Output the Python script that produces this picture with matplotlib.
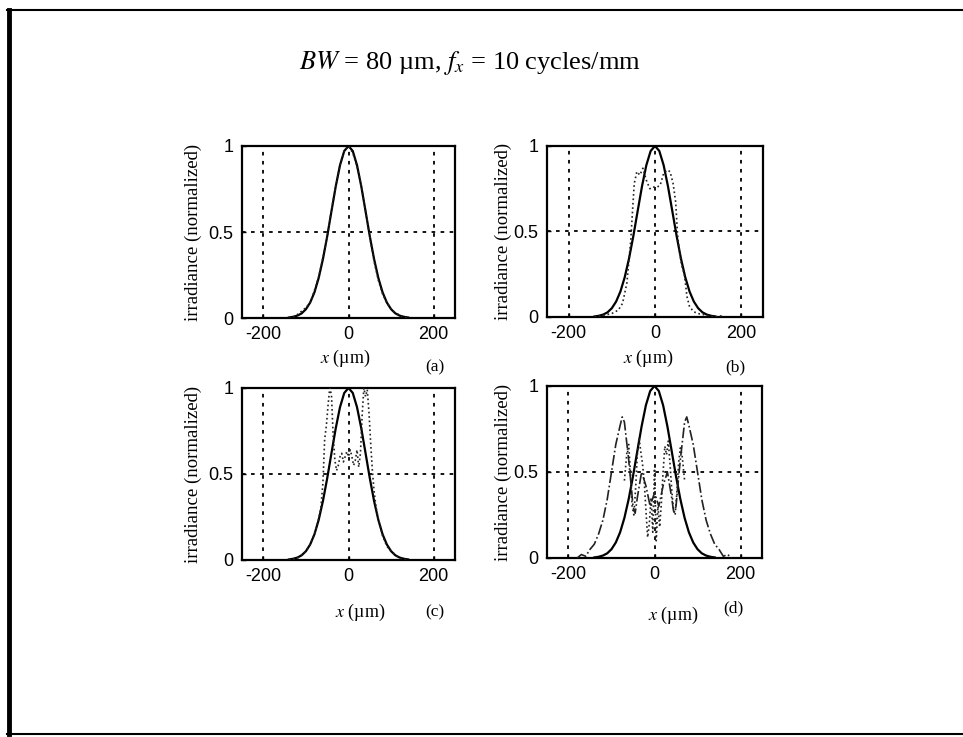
import matplotlib
matplotlib.use("Agg")
import matplotlib.pyplot as plt
from matplotlib.lines import Line2D

plt.rcParams["mathtext.fontset"] = "stix"
plt.rcParams["font.family"] = ["Liberation Serif", "DejaVu Serif"]
plt.rcParams["axes.unicode_minus"] = False

# solid reference profile (same in every panel)
x_ref = [-140, -130, -120, -110, -100, -90, -80, -70, -60, -50, -40, -30, -20, -10, 0,
         10, 20, 30, 40, 50, 60, 70, 80, 90, 100, 110, 120, 130, 140]
y_ref = [0.003, 0.007, 0.014, 0.027, 0.051, 0.090, 0.149, 0.233, 0.343, 0.475, 0.621, 0.765, 0.888, 0.971, 1.0,
         0.971, 0.888, 0.765, 0.621, 0.475, 0.343, 0.233, 0.149, 0.090, 0.051, 0.027, 0.014, 0.007, 0.003]

# (a) dotted
a_x = [-140, -125, -110, -100, -90, -80, -70, -60, -50, -40, -30, -20, -10, 0,
       10, 20, 30, 40, 50, 60, 70, 80, 90, 100, 110, 125, 140]
a_y = [0.0, 0.01, 0.04, 0.06, 0.09, 0.16, 0.24, 0.35, 0.47, 0.63, 0.76, 0.89, 0.97, 1.0,
       0.96, 0.88, 0.77, 0.62, 0.47, 0.33, 0.22, 0.14, 0.09, 0.05, 0.03, 0.01, 0.0]

# (b) dotted
b_x = [-140, -120, -100, -85, -75, -65, -56, -52, -48, -42, -35, -28, -20, -12, -5, 0, 5, 12,
       20, 28, 35, 42, 48, 52, 56, 62, 68, 74, 80, 90, 100, 120, 140, 160]
b_y = [0.0, 0.01, 0.02, 0.04, 0.08, 0.2, 0.45, 0.62, 0.78, 0.85, 0.83, 0.87, 0.8, 0.75, 0.76, 0.76, 0.76, 0.77,
       0.84, 0.86, 0.85, 0.78, 0.67, 0.49, 0.39, 0.3, 0.25, 0.12, 0.06, 0.03, 0.02, 0.01, 0.0, 0.01]

# (c) dotted
c_x = [-140, -120, -110, -100, -90, -80, -70, -65, -60, -56, -52, -48, -44, -40, -36, -32, -28, -24,
       -20, -16, -12, -8, -4, 0, 4, 8, 12, 16, 20, 24, 28, 32, 36, 40, 44, 48, 52, 56, 60, 65, 70,
       80, 90, 100, 110, 120, 140]
c_y = [0.0, 0.01, 0.03, 0.05, 0.09, 0.15, 0.24, 0.3, 0.45, 0.7, 0.78, 0.9, 1.0, 0.96, 0.72, 0.58, 0.52, 0.55,
       0.6, 0.62, 0.57, 0.6, 0.63, 0.6, 0.64, 0.6, 0.55, 0.58, 0.64, 0.54, 0.62, 0.84, 1.0, 0.95, 0.99, 0.86,
       0.68, 0.52, 0.4, 0.3, 0.24, 0.14, 0.08, 0.05, 0.03, 0.01, 0.0]

# (d) dash-dot outer lobes
d_x_dd = [-180, -170, -160, -150, -140, -130, -120, -110, -100, -90, -80, -75, -70, -65, -60, -55, -50,
          -45, -40, -30, -20, -10, 0, 10, 20, 30, 40, 45, 50, 55, 60, 65, 70, 75, 80, 90, 100,
          110, 120, 130, 140, 150, 160, 170, 180]
d_y_dd = [0.0, 0.02, 0.01, 0.05, 0.08, 0.14, 0.22, 0.34, 0.5, 0.66, 0.77, 0.82, 0.79, 0.68, 0.57, 0.44, 0.3,
          0.26, 0.35, 0.5, 0.42, 0.3, 0.38, 0.3, 0.42, 0.5, 0.35, 0.26, 0.3, 0.44, 0.57, 0.68, 0.79, 0.82, 0.77,
          0.66, 0.5, 0.34, 0.22, 0.14, 0.08, 0.05, 0.01, 0.02, 0.0]

# (d) dotted inner structure
d_x_dot = [-70, -64, -60, -56, -52, -48, -44, -40, -36, -32, -28, -24, -20, -16, -12, -8, -4, 0,
           4, 8, 12, 16, 20, 24, 28, 32, 36, 40, 44, 48, 52, 56, 60, 64, 70]
d_y_dot = [0.45, 0.62, 0.66, 0.5, 0.3, 0.25, 0.4, 0.6, 0.7, 0.62, 0.55, 0.45, 0.28, 0.12, 0.2, 0.35, 0.15, 0.52,
           0.1, 0.3, 0.18, 0.32, 0.5, 0.65, 0.6, 0.68, 0.55, 0.4, 0.28, 0.25, 0.38, 0.55, 0.64, 0.6, 0.45]

xticks = [-200, 0, 200]
yticks = [0, 0.5, 1]
ytick_labels = ["0", "0.5", "1"]

fig = plt.figure(figsize=(9.63, 7.37), dpi=100)

# page frame
fig.add_artist(Line2D([0.009, 0.009], [0.004, 0.987], transform=fig.transFigure, color="black", lw=3.5))
fig.add_artist(Line2D([0.007, 1.0], [0.987, 0.987], transform=fig.transFigure, color="black", lw=1.5))
fig.add_artist(Line2D([0.007, 1.0], [0.004, 0.004], transform=fig.transFigure, color="black", lw=1.5))

fig.text(0.488, 0.914, r"$BW$ = 80 µm, $f_x$ = 10 cycles/mm", ha="center", va="center", fontsize=19)

panels = [
    ([0.2513, 0.5685, 0.2212, 0.2334], "(a)", [(a_x, a_y, ":")]),
    ([0.568, 0.5699, 0.2243, 0.2320], "(b)", [(b_x, b_y, ":")]),
    ([0.2513, 0.2402, 0.2212, 0.2334], "(c)", [(c_x, c_y, ":")]),
    ([0.568, 0.2429, 0.2233, 0.2334], "(d)", [(d_x_dd, d_y_dd, "-."), (d_x_dot, d_y_dot, ":")]),
]
# label positions in pixels (x label centre, letter)
xlab_pos = [(345, 358), (648, 358), (360, 612), (673, 615)]
tag_pos = [(435, 367), (735, 367), (435, 612), (733, 608)]
ylab_x = [-0.188, -0.162, -0.188, -0.162]

for i, (rect, tag, curves) in enumerate(panels):
    ax = fig.add_axes(rect)
    ax.plot(x_ref, y_ref, color="black", lw=1.6, zorder=3)
    for xs, ys, ls in curves:
        ax.plot(xs, ys, color="#222222", lw=1.2, ls=ls, zorder=3)
    ax.set_xlim(-250, 250)
    ax.set_ylim(0, 1)
    ax.set_xticks(xticks)
    ax.set_yticks(yticks)
    ax.set_yticklabels(ytick_labels)
    ax.grid(True, color="black", ls=(0, (2, 3)), lw=1.3)
    ax.set_axisbelow(False)
    for s in ax.spines.values():
        s.set_linewidth(1.6)
    ax.tick_params(direction="in", length=3, width=1, pad=6)
    for lab in ax.get_xticklabels() + ax.get_yticklabels():
        lab.set_fontfamily("Liberation Sans")
        lab.set_fontsize(13)
    ax.set_ylabel("irradiance (normalized)", fontsize=13.5, labelpad=2)
    ax.yaxis.set_label_coords(ylab_x[i], 0.5)
    xl, yl = xlab_pos[i]
    fig.text(xl / 963, 1 - yl / 737, r"$x$ (µm)", ha="center", va="center", fontsize=13)
    tx, ty = tag_pos[i]
    fig.text(tx / 963, 1 - ty / 737, tag, ha="center", va="center", fontsize=12.5)

fig.savefig("out.png", dpi=100)
